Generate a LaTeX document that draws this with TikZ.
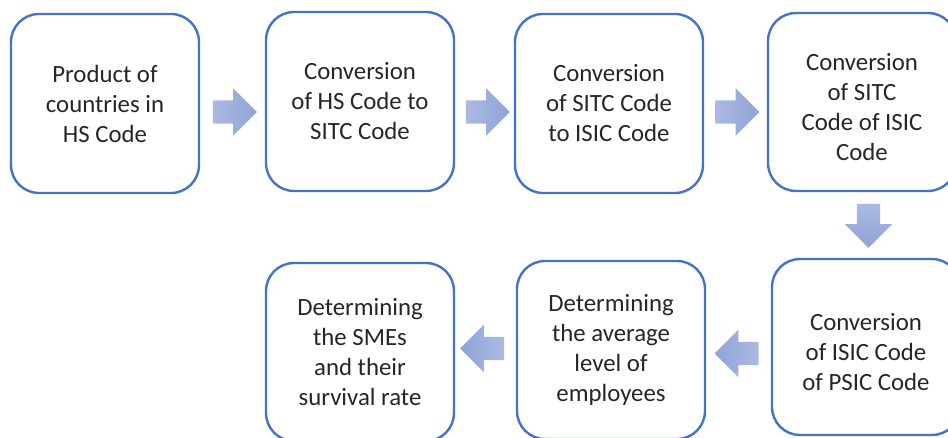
\documentclass[tikz,border=0pt]{standalone}
\usepackage{fontspec}
\setmainfont{Carlito}
\usetikzlibrary{shapes.arrows}
\definecolor{boxblue}{HTML}{4472C4}
\definecolor{arrlight}{HTML}{ABBAE2}
\definecolor{arrdark}{HTML}{8FA3D6}
\definecolor{txt}{HTML}{262626}
\newcommand{\lowertext}[2]{\raisebox{-#1}[\height][\depth]{\parbox{180pt}{\centering #2}}}
\begin{document}
\begin{tikzpicture}[x=1pt,y=-1pt,
  stepbox/.style={draw=boxblue,line width=2.4pt,rounded corners=28pt,fill=white,
    minimum width=188pt,minimum height=178pt,align=center,text=txt,
    font=\fontsize{24.8}{30}\selectfont,inner sep=0pt},
  blockarrow/.style={single arrow,draw=none,inner sep=11.5pt,
    single arrow head extend=12pt,minimum height=44pt,single arrow tip angle=90},
  rarrow/.style={blockarrow,left color=arrlight,right color=arrdark},
  larrow/.style={blockarrow,shape border rotate=180,right color=arrlight,left color=arrdark},
  darrow/.style={blockarrow,shape border rotate=270,top color=arrlight,bottom color=arrdark}]
\useasboundingbox (0,0) rectangle (948,438);
\clip (0,0) rectangle (948,438);
\node[stepbox,minimum height=179pt] (b1) at (105,103.5) {Product of\\countries in\\HS Code};
\node[stepbox,minimum height=179pt] (b2) at (360,101.5) {Conversion\\of HS Code to\\SITC Code};
\node[stepbox,minimum height=179pt] (b3) at (609,103.5) {Conversion\\of SITC Code\\to ISIC Code};
\node[stepbox] (b4) at (862,102) {\lowertext{5pt}{Conversion\\of SITC\\Code of ISIC\\Code}};
\node[stepbox,minimum height=176pt] (b5) at (866,347) {\lowertext{5pt}{Conversion\\of ISIC Code\\of PSIC Code}};
\node[stepbox] (b6) at (611,350) {Determining\\the average\\level of\\employees};
\node[stepbox] (b7) at (360,352) {Determining\\the SMEs\\and their\\survival rate};
\node[rarrow] (a1) at (229,112) {};
\node[rarrow] (a2) at (482,112) {};
\node[rarrow] (a3) at (731.5,112) {};
\node[darrow] (a4) at (868.5,220) {};
\node[larrow] (a5) at (742.5,353.5) {};
\node[larrow] (a6) at (488,348.5) {};
\end{tikzpicture}
\end{document}
